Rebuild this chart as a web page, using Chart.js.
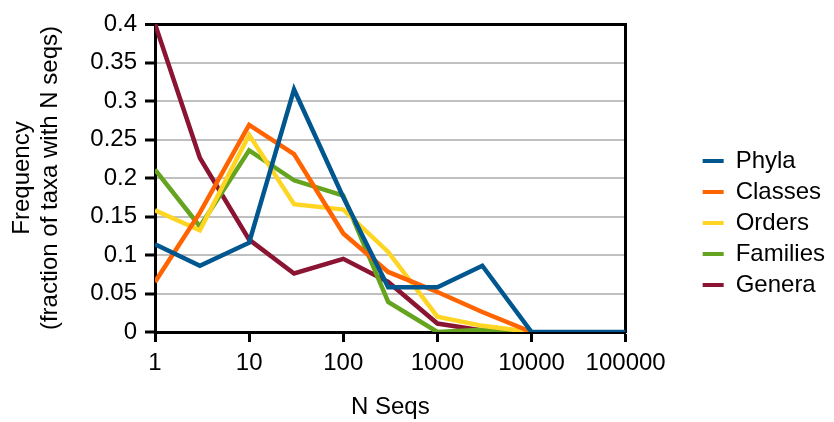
<!DOCTYPE html>
<html>
<head>
<meta charset="utf-8">
<script src="https://cdn.jsdelivr.net/npm/chart.js@4/dist/chart.umd.min.js"></script>
<style>
html,body{margin:0;padding:0;background:#fff;}
canvas{display:block;}
</style>
</head>
<body>
<canvas id="c" width="834" height="422"></canvas>
<script>
// ---- data ----
const nSeqs = [1, 3, 10, 30, 100, 300, 1000, 3000, 10000, 100000];
const seriesNames = ["Phyla", "Classes", "Orders", "Families", "Genera"];
const phyla    = [0.114, 0.086, 0.116, 0.315, 0.175, 0.058, 0.058, 0.086, 0, 0];
const classes  = [0.065, 0.155, 0.269, 0.231, 0.128, 0.078, 0.052, 0.026, 0, null];
const orders   = [0.158, 0.132, 0.256, 0.166, 0.159, 0.104, 0.020, 0.008, 0, null];
const families = [0.211, 0.137, 0.236, 0.197, 0.177, 0.039, 0.000, 0.003, 0, null];
const genera   = [0.400, 0.226, 0.120, 0.076, 0.095, 0.065, 0.011, 0.002, 0, null];
const xTickValues = [1, 10, 100, 1000, 10000, 100000];
const yTickValues = [0, 0.05, 0.1, 0.15, 0.2, 0.25, 0.3, 0.35, 0.4];
const yTickLabels = ["0", "0.05", "0.1", "0.15", "0.2", "0.25", "0.3", "0.35", "0.4"];
const xTitle = "N Seqs";
const yTitle = ["Frequency", "(fraction of taxa with N seqs)"];

// ---- styles ----
const colors = ["#00578f", "#ff6400", "#ffd524", "#65a41e", "#8a1431"];
const FONT = "'Liberation Sans', Arial, sans-serif";
const FS = 24;
const allValues = [phyla, classes, orders, families, genera];

const datasets = allValues.map((vals, i) => ({
  label: seriesNames[i],
  data: nSeqs.map((x, j) => ({x: x, y: vals[j]})),
  borderColor: colors[i],
  backgroundColor: colors[i],
  borderWidth: 4.5,
  pointRadius: 0,
  pointHoverRadius: 0,
  tension: 0,
  spanGaps: false,
  borderJoinStyle: 'miter'
}));

new Chart(document.getElementById('c'), {
  type: 'line',
  data: { datasets },
  options: {
    responsive: false,
    animation: false,
    devicePixelRatio: 1,
    layout: { padding: { left: 4, right: 0, top: 24, bottom: 0 } },
    plugins: {
      tooltip: { enabled: false },
      legend: {
        position: 'right',
        labels: {
          boxWidth: 21,
          boxHeight: 4,
          padding: 7,
          color: '#000',
          font: { family: FONT, size: FS },
          generateLabels: (chart) => {
            const items = Chart.defaults.plugins.legend.labels.generateLabels(chart);
            items.forEach(it => { it.lineWidth = 0; it.fillStyle = it.strokeStyle; });
            return items;
          }
        }
      }
    },
    scales: {
      x: {
        type: 'logarithmic',
        min: 1,
        max: 100000,
        afterBuildTicks: (s) => { s.ticks = xTickValues.map(v => ({value: v})); },
        afterFit: (s) => { s.height = 90; },
        ticks: {
          color: '#000',
          font: { family: FONT, size: FS },
          padding: 7,
          maxRotation: 0,
          autoSkip: false,
          callback: (v) => String(v)
        },
        grid: {
          drawOnChartArea: false,
          drawTicks: true,
          tickLength: 10,
          tickColor: '#000',
          tickWidth: 3
        },
        border: { display: true, color: '#000', width: 3 },
        title: {
          display: true,
          text: xTitle,
          color: '#000',
          font: { family: FONT, size: FS },
          padding: { top: 0, bottom: 0 }
        }
      },
      y: {
        type: 'linear',
        position: 'left',
        min: 0,
        max: 0.4,
        afterBuildTicks: (s) => { s.ticks = yTickValues.map(v => ({value: v})); },
        afterFit: (s) => { s.width = 151; },
        ticks: {
          color: '#000',
          font: { family: FONT, size: FS },
          padding: 8,
          callback: (v) => { const i = yTickValues.findIndex(t => Math.abs(t - v) < 1e-9); return i >= 0 ? yTickLabels[i] : ''; }
        },
        grid: {
          color: (ctx) => (ctx.tick && Math.abs(ctx.tick.value - 0.4) < 1e-9) ? '#000' : '#c0c0c0',
          lineWidth: (ctx) => (ctx.tick && Math.abs(ctx.tick.value - 0.4) < 1e-9) ? 3 : 2,
          tickLength: 10,
          tickColor: '#000',
          tickWidth: 3
        },
        border: { display: true, color: '#000', width: 3 },
        title: {
          display: true,
          text: yTitle,
          color: '#000',
          font: { family: FONT, size: FS, lineHeight: 1.15 },
          padding: { top: 5, bottom: 4 }
        }
      },
      y2: {
        type: 'linear',
        position: 'right',
        min: 0,
        max: 0.4,
        afterFit: (s) => { s.width = 70; },
        ticks: { display: false },
        grid: { drawOnChartArea: false, drawTicks: false },
        border: { display: true, color: '#000', width: 3 }
      }
    }
  }
});
</script>
</body>
</html>
